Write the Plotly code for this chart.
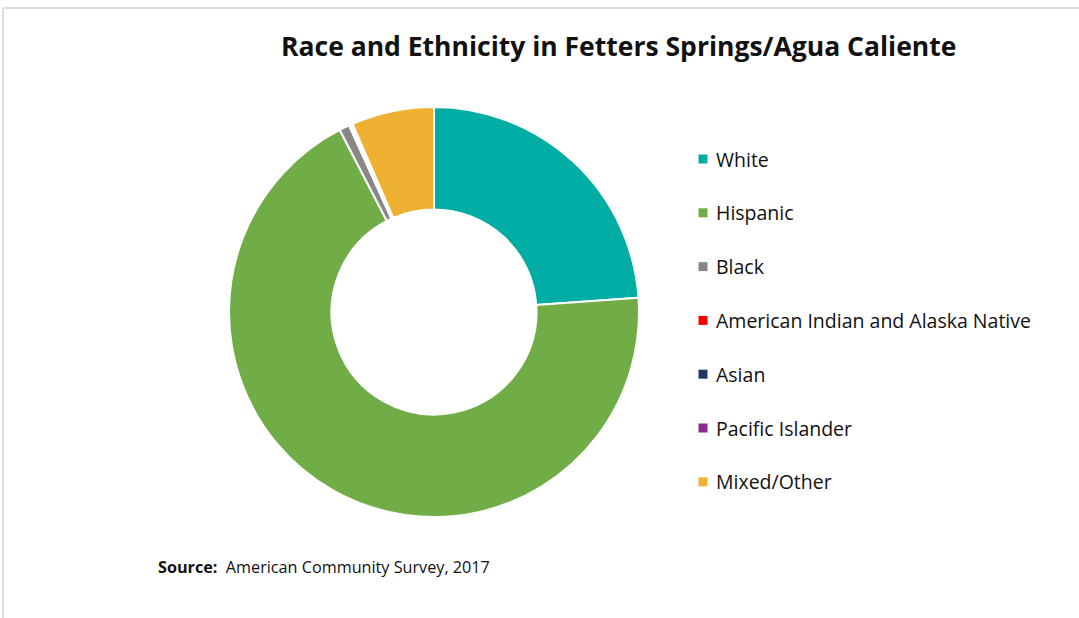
import plotly.graph_objects as go

categories = ["White", "Hispanic", "Black", "American Indian and Alaska Native",
              "Asian", "Pacific Islander", "Mixed/Other"]
values = [23.9, 68.5, 0.8, 0.15, 0.1, 0.05, 6.5]
colors = ["#00ADA4", "#70AD47", "#878787", "#FF0000", "#1F3864", "#8E2A8E", "#EFB131"]
title_text = "Race and Ethnicity in Fetters Springs/Agua Caliente"
source_label = "Source:"
source_text = "American Community Survey, 2017"

W, H = 1079, 618
cx, cy, R = 434, 312, 205
FONT = "Open Sans"

fig = go.Figure()
fig.add_trace(go.Pie(
    labels=categories, values=values, hole=0.5, sort=False,
    direction="clockwise", rotation=0,
    marker=dict(colors=colors, line=dict(color="white", width=2)),
    textinfo="none", hoverinfo="label+percent", showlegend=False,
    domain=dict(x=[(cx - R) / W, (cx + R) / W], y=[(H - cy - R) / H, (H - cy + R) / H]),
))

shapes = [
    dict(type="line", xref="paper", yref="paper", x0=3 / W, x1=1, y0=1 - 8 / H, y1=1 - 8 / H,
         line=dict(color="#DCDCDC", width=2)),
    dict(type="line", xref="paper", yref="paper", x0=3 / W, x1=3 / W, y0=0, y1=1 - 8 / H,
         line=dict(color="#DCDCDC", width=2)),
]
annotations = [
    dict(text=f"<b>{title_text}</b>", x=618 / W, y=1 - 46 / H, xref="paper", yref="paper",
         showarrow=False, xanchor="center", yanchor="middle",
         font=dict(family=FONT, size=26.5, color="#111111")),
    dict(text=f"<b>{source_label}</b>&nbsp; {source_text}", x=156 / W, y=1 - 567 / H,
         xref="paper", yref="paper", showarrow=False, xanchor="left", yanchor="middle",
         font=dict(family=FONT, size=16.2, color="#111111")),
]

# legend drawn from the category/colour lists
leg_x_box, leg_x_text, leg_y0, leg_dy, box = 703, 714, 159, 53.8, 9
for i, (lab, col) in enumerate(zip(categories, colors)):
    yy = leg_y0 + i * leg_dy
    shapes.append(dict(type="rect", xref="paper", yref="paper",
                       x0=(leg_x_box - box / 2) / W, x1=(leg_x_box + box / 2) / W,
                       y0=1 - (yy + box / 2) / H, y1=1 - (yy - box / 2) / H,
                       fillcolor=col, line=dict(width=0)))
    annotations.append(dict(text=lab, x=leg_x_text / W, y=1 - yy / H, xref="paper", yref="paper",
                            showarrow=False, xanchor="left", yanchor="middle",
                            font=dict(family=FONT, size=19.5, color="#111111")))

fig.update_layout(
    width=W, height=H, margin=dict(l=0, r=0, t=0, b=0),
    paper_bgcolor="white", plot_bgcolor="white",
    shapes=shapes, annotations=annotations,
)
fig.write_html("out.html", config={"displayModeBar": False},
               post_script="document.body.style.margin='0';")
